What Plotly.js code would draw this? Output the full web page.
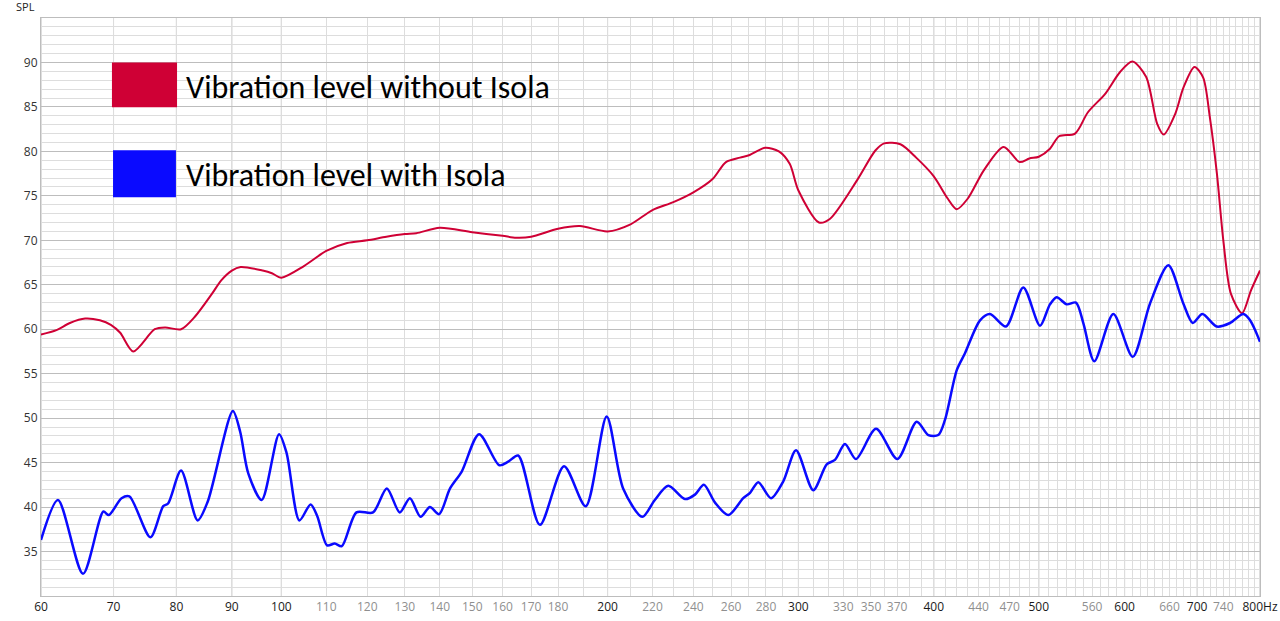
<!DOCTYPE html>
<html>
<head>
<meta charset="utf-8">
<script src="https://cdn.plot.ly/plotly-3.0.1.min.js"></script>
<style>html,body{margin:0;padding:0;background:#fff;}#chart{width:1280px;height:621px;}</style>
</head>
<body>
<div id="chart"></div>
<script>
// ---- Data (frequency in Hz, level in dB SPL) ----
const seriesNames = ["Vibration level without Isola", "Vibration level with Isola"];

const freqWithout = [60, 62, 63.8, 65.9, 68, 69.6, 71, 73, 76.4, 78.1, 80.8, 83.2, 86.3, 88, 90, 91.7, 96.1, 98, 100,
  104.9, 110, 115, 120, 125, 130, 133.2, 140, 150, 160, 164.7, 170, 180, 188.6, 200, 210, 220, 230, 240, 250,
  257.2, 265, 270.5, 279.5, 287.8, 294.5, 300, 313.4, 320.7, 340, 353.3, 360, 372.6, 385.3, 400, 412, 420, 430,
  445, 464, 480, 490, 500, 512, 522, 540, 555, 576, 594, 610, 628, 643, 652, 668, 680, 696, 709, 719, 730, 740,
  752, 770, 785, 800];
const splWithout = [59.4, 59.9, 60.7, 61.2, 61.0, 60.5, 59.6, 57.5, 60.0, 60.2, 60.0, 61.4, 64.0, 65.5, 66.6, 67.0, 66.6, 66.3, 65.8,
  67.1, 68.8, 69.7, 70.0, 70.4, 70.7, 70.8, 71.4, 70.9, 70.5, 70.3, 70.4, 71.3, 71.6, 71.0, 71.8, 73.4, 74.3, 75.4, 76.9,
  78.8, 79.3, 79.6, 80.4, 80.0, 78.6, 75.6, 72.0, 72.4, 76.8, 80.1, 80.9, 80.8, 79.3, 77.2, 74.7, 73.5, 74.7,
  77.9, 80.5, 78.8, 79.2, 79.4, 80.3, 81.7, 82.0, 84.4, 86.5, 88.9, 90.1, 88.4, 83.1, 81.9, 84.2, 87.2, 89.5, 88.3, 83.9, 77.5, 70.0,
  64.0, 61.8, 64.4, 66.6];

const freqWith = [60, 62.2, 65.6, 68.5, 69.3, 71.2, 72.4, 75.7, 77.8, 78.6, 80.8, 83.7, 85.5, 90.2, 91.6, 93.2, 95.9, 99.5,
  101.1, 103.9, 106.4, 107.9, 110.2, 112, 113.7, 117.3, 121.5, 125.1, 128.6, 131.4, 134.4, 137.1, 139.8, 143.1,
  146.7, 152.2, 158.9, 161.9, 165.4, 173.2, 182.3, 190.9, 199.6, 206.7, 215.3, 221.1, 227.5, 235.7, 240.8,
  245.4, 251.3, 258.5, 266.8, 270.7, 275.5, 283, 290.5, 298.5, 309.6, 318.6, 324.2, 331.2, 339, 353.8, 370.2,
  385.7, 395.4, 403.8, 409.6, 420, 427.4, 441.3, 450.8, 466.3, 483.8, 501.3, 512, 519.4, 530.5, 541.1, 549.6,
  562.6, 585.8, 610.4, 633.3, 658.4, 679.7, 693.5, 707.8, 729.8, 750.7, 772.2, 783.3, 800];
const splWith = [36.3, 40.8, 32.5, 39.5, 39.1, 41.0, 41.2, 36.6, 40.1, 40.4, 44.1, 38.5, 40.6, 50.8, 48.5, 43.8, 40.8, 48.2,
  46.1, 38.5, 40.3, 39.0, 35.7, 35.9, 35.6, 39.4, 39.4, 42.1, 39.4, 41.0, 38.9, 40.0, 39.2, 42.1,
  44.0, 48.2, 44.7, 45.1, 45.8, 38.0, 44.6, 40.1, 50.2, 42.1, 38.9, 40.8, 42.4, 40.9, 41.4,
  42.5, 40.5, 39.1, 41.0, 41.6, 42.8, 41.0, 42.9, 46.4, 41.9, 44.8, 45.3, 47.1, 45.4, 48.8, 45.4,
  49.6, 48.1, 48.1, 49.8, 55.4, 57.3, 61.0, 61.7, 60.3, 64.7, 60.4, 62.8, 63.6, 62.8, 63.0, 60.7,
  56.4, 61.7, 56.9, 62.9, 67.2, 62.9, 60.7, 61.7, 60.3, 60.7, 61.7, 61.0, 58.6];

// Axis ticks
const xTickVals = [60, 70, 80, 90, 100, 110, 120, 130, 140, 150, 160, 170, 180, 200, 220, 240, 260, 280, 300,
  330, 350, 370, 400, 440, 470, 500, 560, 600, 660, 700, 740, 800];
const xTickDark = [60, 70, 80, 90, 100, 200, 300, 400, 500, 600, 700, 800];
const xMajorGrid = [60, 70, 80, 90, 200, 300, 400, 500, 600, 700, 800];
const xStrongGrid = [100];
const yTickVals = [35, 40, 45, 50, 55, 60, 65, 70, 75, 80, 85, 90];

// ---- Build ----
const colors = ["#cf0035", "#0a0aff"];
const xMinorGrid = [];
for (let f = 60; f <= 800; f += 10) xMinorGrid.push(f);

const xTickText = xTickVals.map(v => {
  const label = v === 800 ? "800Hz" : String(v);
  return xTickDark.includes(v) ? label : '<span style="color:#8f8f8f">' + label + '</span>';
});

const traces = [
  {x: freqWithout, y: splWithout, name: seriesNames[0], type: "scatter", mode: "lines",
   line: {color: colors[0], width: 2, shape: "spline", smoothing: 0.8}, hoverinfo: "x+y"},
  {x: freqWith, y: splWith, name: seriesNames[1], type: "scatter", mode: "lines",
   line: {color: colors[1], width: 2.5, shape: "spline", smoothing: 0.8}, hoverinfo: "x+y"}
];

const shapes = [];
xMajorGrid.forEach(f => shapes.push({type: "line", xref: "x", yref: "paper", x0: f, x1: f, y0: 0, y1: 1,
  layer: "between", line: {color: "#bdbdbd", width: 1}}));
xStrongGrid.forEach(f => shapes.push({type: "line", xref: "x", yref: "paper", x0: f, x1: f, y0: 0, y1: 1,
  layer: "between", line: {color: "#8a8a8a", width: 1}}));

// Legend boxes (drawn as filled rectangles like the reference)
const legendBoxes = [
  {x0: 0.0582, x1: 0.1116, y0: 0.8454, y1: 0.9231},
  {x0: 0.0591, x1: 0.1107, y0: 0.690, y1: 0.7712}
];
legendBoxes.forEach((b, i) => shapes.push({type: "rect", xref: "paper", yref: "paper",
  x0: b.x0, x1: b.x1, y0: b.y0, y1: b.y1, layer: "above", line: {width: 0}, fillcolor: colors[i]}));

const legendTextY = [0.8800, 0.7280];
const annotations = seriesNames.map((name, i) => ({
  xref: "paper", yref: "paper", x: 0.1170, y: legendTextY[i], xanchor: "left", yanchor: "middle",
  text: name, showarrow: false, font: {family: "Carlito, Lato, 'Open Sans', sans-serif", size: 32, color: "#000"}
}));
annotations.push({xref: "paper", yref: "paper", x: 0, y: 1, xanchor: "right", yanchor: "bottom",
  xshift: -4, yshift: 2, text: "SPL", showarrow: false,
  font: {family: "'Open Sans', 'Noto Sans', sans-serif", size: 11, color: "#222"}});

const layout = {
  width: 1280, height: 621,
  margin: {l: 41, r: 20, t: 18, b: 25, pad: 0},
  paper_bgcolor: "#ffffff", plot_bgcolor: "#ffffff",
  showlegend: false,
  font: {family: "'Open Sans', 'Noto Sans', sans-serif", size: 12, color: "#222"},
  xaxis: {
    type: "log", range: [Math.log10(60), Math.log10(800)],
    tickmode: "array", tickvals: xTickVals, ticktext: xTickText,
    showgrid: false, zeroline: false, ticks: "",
    showline: true, mirror: true, linecolor: "#bdbdbd", linewidth: 1,
    tickfont: {size: 12, color: "#1a1a1a"},
    minor: {tickmode: "array", tickvals: xMinorGrid, showgrid: true, gridcolor: "#dddddd", gridwidth: 1, ticks: ""}
  },
  yaxis: {
    range: [30, 95], tickmode: "array", tickvals: yTickVals,
    showgrid: true, gridcolor: "#bdbdbd", gridwidth: 1, zeroline: false, ticks: "",
    showline: true, mirror: true, linecolor: "#bdbdbd", linewidth: 1,
    tickfont: {size: 12, color: "#333"},
    minor: {dtick: 1, tick0: 30, showgrid: true, gridcolor: "#dddddd", gridwidth: 1, ticks: ""}
  },
  shapes: shapes,
  annotations: annotations
};

Plotly.newPlot("chart", traces, layout, {displayModeBar: false, staticPlot: true});
</script>
</body>
</html>
